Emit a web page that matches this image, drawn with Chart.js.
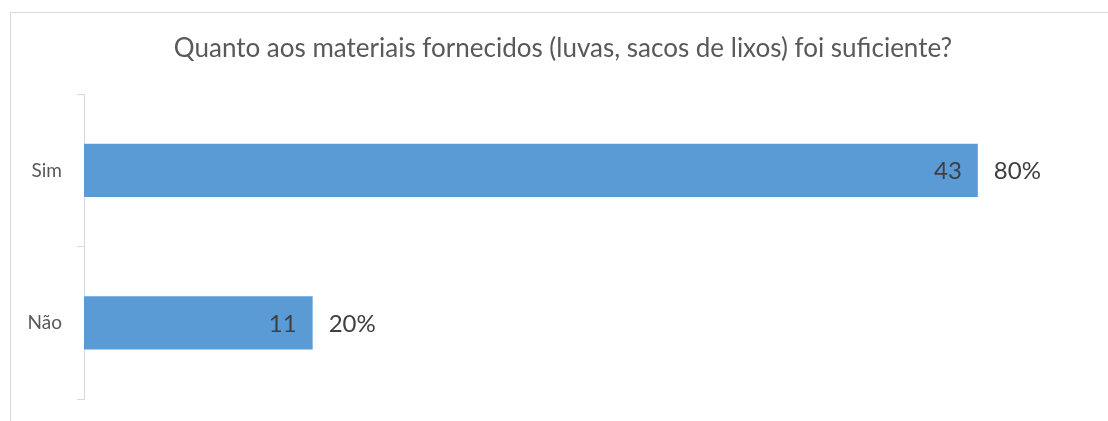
<!DOCTYPE html>
<html><head><meta charset="utf-8">
<script src="https://cdn.jsdelivr.net/npm/chart.js@4"></script>
<style>
html,body{margin:0;padding:0;background:#fff;overflow:hidden;width:1108px;height:421px;}
#frame{position:absolute;left:10px;top:12px;width:1104px;height:409px;border:1px solid #d9d9d9;overflow:hidden;}
canvas{display:block}
</style></head><body>
<div id="frame"><canvas id="c" width="1104" height="409"></canvas></div>
<script>
const categories = ['Sim', 'Não'];
const counts = [43, 11];
const percentLabels = ['80%', '20%'];
const titleText = 'Quanto aos materiais fornecidos (luvas, sacos de lixos) foi suficiente?';
const axisMax = 49.6;

const FONT = 'Lato, "Open Sans", sans-serif';

const barLabels = {
  id: 'barLabels',
  afterDatasetsDraw(chart) {
    const ctx = chart.ctx;
    const meta = chart.getDatasetMeta(0);
    ctx.save();
    ctx.font = '24px ' + FONT;
    ctx.textBaseline = 'middle';
    ctx.fillStyle = '#404040';
    meta.data.forEach((bar, i) => {
      ctx.textAlign = 'right';
      ctx.fillText(String(counts[i]), bar.x - 16, bar.y + 1);
      ctx.textAlign = 'left';
      ctx.fillText(percentLabels[i], bar.x + 16, bar.y + 1);
    });
    ctx.restore();
  }
};

new Chart(document.getElementById('c'), {
  type: 'bar',
  data: {
    labels: categories,
    datasets: [{
      data: counts,
      backgroundColor: '#5B9BD5',
      borderWidth: 0,
      categoryPercentage: 1,
      barPercentage: 0.35
    }]
  },
  options: {
    indexAxis: 'y',
    responsive: false,
    animation: false,
    devicePixelRatio: 1,
    layout: { padding: { top: 0, right: 0, bottom: 23, left: 0 } },
    plugins: {
      legend: { display: false },
      tooltip: { enabled: false },
      title: {
        display: true,
        text: titleText,
        color: '#595959',
        font: { family: FONT, size: 26, weight: 'normal', lineHeight: 1.2 },
        padding: { top: 20, bottom: 30 }
      }
    },
    scales: {
      x: { display: false, min: 0, max: axisMax },
      y: {
        afterFit(scale) {
          scale.width = 73;
          scale.paddingTop = 0;
          scale.paddingBottom = 0;
        },
        grid: { drawOnChartArea: false, drawTicks: true, tickLength: 7, color: '#d9d9d9', offset: true },
        border: { display: true, color: '#d9d9d9' },
        ticks: { padding: 15, color: '#595959', font: { family: FONT, size: 19 } }
      }
    }
  },
  plugins: [barLabels]
});
</script>
</body></html>
